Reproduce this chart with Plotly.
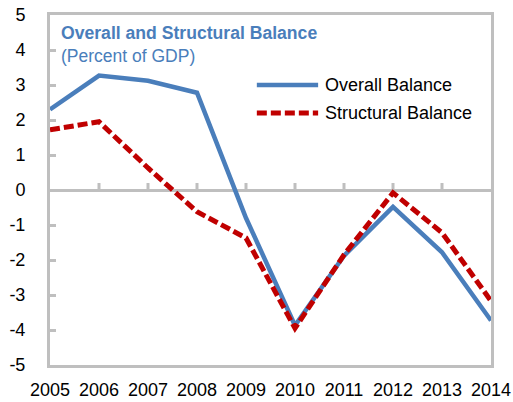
import plotly.graph_objects as go

# Fiscal balance series, percent of GDP
years = [2005, 2006, 2007, 2008, 2009, 2010, 2011, 2012, 2013, 2014]
overall_balance = [2.3, 3.27, 3.12, 2.78, -0.8, -3.87, -1.88, -0.48, -1.78, -3.73]
structural_balance = [1.72, 1.95, 0.63, -0.62, -1.37, -3.95, -1.85, -0.08, -1.22, -3.17]
y_ticks = [-5, -4, -3, -2, -1, 0, 1, 2, 3, 4, 5]
y_tick_text = [str(v) for v in y_ticks]

BLUE = "#4A7EBB"
RED = "#C00000"
GRAY = "#BFBFBF"
FONT = "Liberation Sans"

fig = go.Figure()
fig.add_trace(go.Scatter(
    x=years, y=overall_balance, mode="lines", name="Overall Balance",
    line=dict(color=BLUE, width=4.5), showlegend=False,
))
fig.add_trace(go.Scatter(
    x=years, y=structural_balance, mode="lines", name="Structural Balance",
    line=dict(color=RED, width=5, dash="10px,4px"), showlegend=False,
))

fig.update_layout(
    width=513, height=402,
    margin=dict(l=50, r=22, t=15, b=37, autoexpand=False),
    paper_bgcolor="white", plot_bgcolor="white",
    font=dict(family=FONT, size=18, color="black"),
    xaxis=dict(
        range=[years[0], years[-1]], tickmode="array", tickvals=years,
        ticktext=[str(y) for y in years], showgrid=False, zeroline=False,
        showline=True, mirror=True, linecolor=GRAY, linewidth=3,
        ticks="", ticklabelstandoff=6, automargin=False,
    ),
    yaxis=dict(
        range=[-5, 5], tickmode="array", tickvals=y_ticks, ticktext=y_tick_text,
        showgrid=False, zeroline=True, zerolinecolor=GRAY, zerolinewidth=3,
        showline=True, mirror=True, linecolor=GRAY, linewidth=3,
        ticks="inside", ticklen=6, tickwidth=3, tickcolor=GRAY,
        ticklabelstandoff=18, automargin=False,
    ),
)

# Year tick marks standing on the zero line
for yr in years[1:-1]:
    fig.add_shape(
        type="line", xref="x", yref="y", ysizemode="pixel", yanchor=0,
        x0=yr, x1=yr, y0=0, y1=7, line=dict(color=GRAY, width=3), layer="below",
    )

# Chart heading
fig.add_annotation(
    text="<b>Overall and Structural Balance</b>", xref="paper", yref="paper",
    x=0, y=1, xanchor="left", yanchor="top", xshift=9, yshift=-6,
    showarrow=False, font=dict(family=FONT, size=17.6, color=BLUE),
)
fig.add_annotation(
    text="(Percent of GDP)", xref="paper", yref="paper",
    x=0, y=1, xanchor="left", yanchor="top", xshift=9, yshift=-29,
    showarrow=False, font=dict(family=FONT, size=17.5, color=BLUE),
)

# Legend: line samples with labels
legend_items = [
    ("Overall Balance", BLUE, "solid", 4.5, 0.8),
    ("Structural Balance", RED, "10px,4px", 5, 0.72),
]
for label, color, dash, width, ypos in legend_items:
    fig.add_shape(
        type="line", xref="paper", yref="paper",
        x0=0.469, x1=0.608, y0=ypos, y1=ypos,
        line=dict(color=color, width=width, dash=dash),
    )
    fig.add_annotation(
        text=label, xref="paper", yref="paper", x=0.619, y=ypos,
        xanchor="left", yanchor="middle", showarrow=False,
        font=dict(family=FONT, size=18, color="black"),
    )

fig.write_html("out.html")
